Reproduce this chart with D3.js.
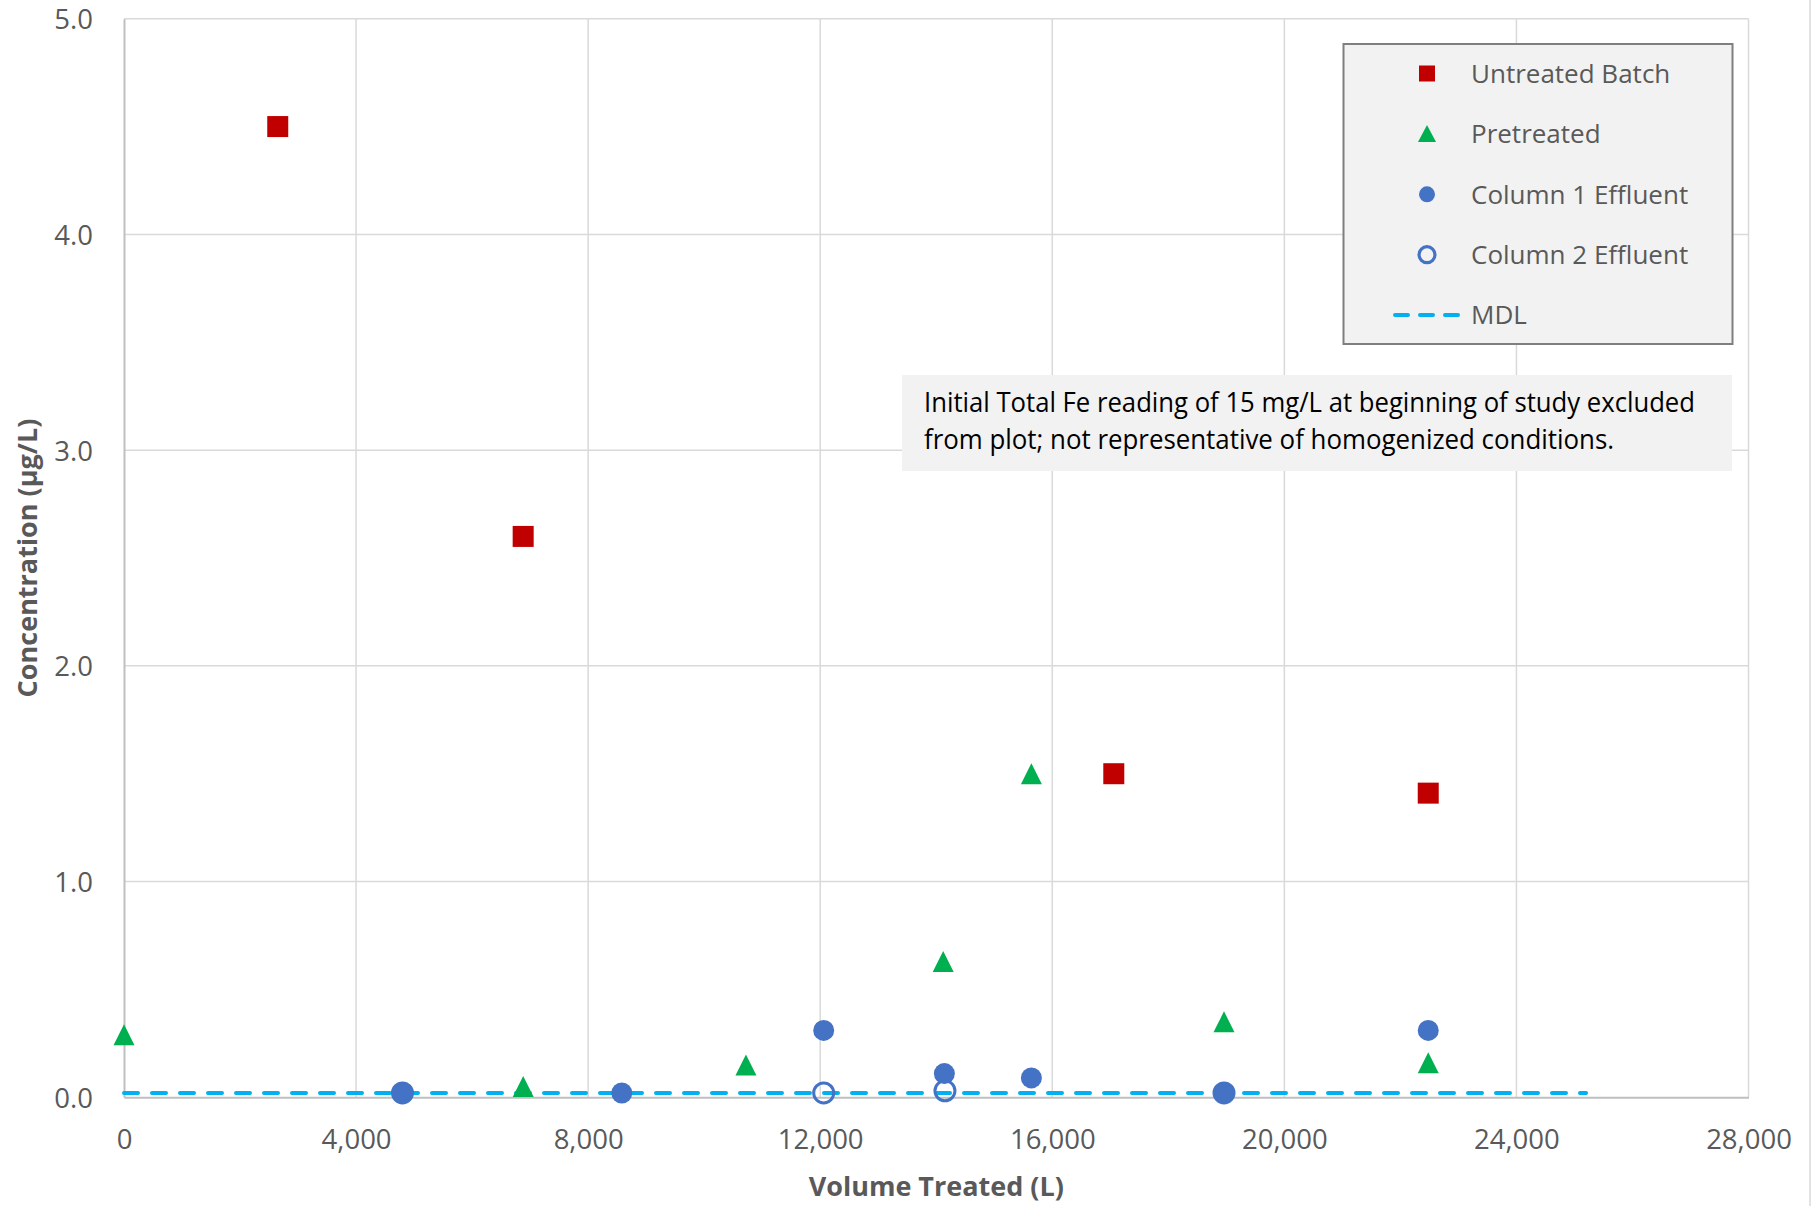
<!DOCTYPE html>
<html>
<head>
<meta charset="utf-8">
<script src="https://cdn.jsdelivr.net/npm/d3@7"></script>
<style>
  html, body { margin: 0; padding: 0; background: #fff; }
  svg { display: block; }
</style>
</head>
<body>
<svg id="chart" width="1819" height="1206"></svg>
<script>
// Total Fe concentration vs. volume treated
const untreatedX = [2650, 6880, 17060, 22480];
const untreatedY = [4.50, 2.60, 1.50, 1.41];

const pretreatedX = [0, 6880, 10720, 14120, 15640, 18960, 22480];
const pretreatedY = [0.29, 0.05, 0.15, 0.63, 1.50, 0.35, 0.16];

const column1X = [4800, 8580, 12060, 14140, 15640, 18960, 22480];
const column1Y = [0.02, 0.02, 0.31, 0.11, 0.09, 0.02, 0.31];

const column2X = [4800, 12060, 14150, 18960];
const column2Y = [0.02, 0.02, 0.03, 0.02];

const mdlX = [0, 25200];
const mdlY = [0.02, 0.02];

const xTicks = [0, 4000, 8000, 12000, 16000, 20000, 24000, 28000];
const yTicks = [0, 1, 2, 3, 4, 5];

const legendLabels = ["Untreated Batch", "Pretreated", "Column 1 Effluent", "Column 2 Effluent", "MDL"];
const noteLines = [
  "Initial Total Fe reading of 15 mg/L at beginning of study excluded",
  "from plot; not representative of homogenized conditions."
];

const RED = "#c00000", GREEN = "#00b050", BLUE = "#4472c4", CYAN = "#00b0f0";
const TEXT = "#595959";
const FONT = "'Open Sans', 'Noto Sans', sans-serif";

const svg = d3.select("#chart");
const plot = { left: 124, right: 1748.5, top: 18.7, bottom: 1097.3 };

const x = d3.scaleLinear().domain([0, 28000]).range([plot.left, plot.right]);
const y = d3.scaleLinear().domain([0, 5]).range([plot.bottom, plot.top]);

// outer chart border (right edge)
svg.append("line").attr("x1", 1810).attr("x2", 1810).attr("y1", 0).attr("y2", 1206)
  .attr("stroke", "#d9d9d9").attr("stroke-width", 1.5);

// gridlines
const grid = svg.append("g");
grid.selectAll("line.v").data(xTicks.slice(1)).join("line")
  .attr("x1", d => x(d)).attr("x2", d => x(d))
  .attr("y1", plot.top).attr("y2", plot.bottom)
  .attr("stroke", "#d9d9d9").attr("stroke-width", 1.5);
grid.selectAll("line.h").data(yTicks.slice(1)).join("line")
  .attr("x1", plot.left).attr("x2", plot.right)
  .attr("y1", d => y(d)).attr("y2", d => y(d))
  .attr("stroke", "#d9d9d9").attr("stroke-width", 1.5);

// axes
const xAxis = svg.append("g").attr("transform", `translate(0,${plot.bottom})`)
  .call(d3.axisBottom(x).tickValues(xTicks).tickSize(0).tickPadding(32).tickFormat(d3.format(",")));
const yAxis = svg.append("g").attr("transform", `translate(${plot.left},0)`)
  .call(d3.axisLeft(y).tickValues(yTicks).tickSize(0).tickPadding(31).tickFormat(d3.format(".1f")));
[xAxis, yAxis].forEach(a => {
  a.select(".domain").attr("stroke", "#bfbfbf").attr("stroke-width", 2);
  a.selectAll("text").attr("fill", TEXT).attr("font-family", FONT).attr("font-size", 27.5);
});
xAxis.selectAll("text").attr("dy", "0.71em");
yAxis.selectAll("text").attr("dy", "0.36em");

// axis titles
svg.append("text").attr("x", x(14000)).attr("y", 1196)
  .attr("text-anchor", "middle").attr("fill", TEXT).attr("font-family", FONT)
  .attr("font-size", 27).attr("font-weight", "bold").text("Volume Treated (L)");
svg.append("text").attr("transform", `translate(37,${y(2.5)}) rotate(-90)`)
  .attr("text-anchor", "middle").attr("fill", TEXT).attr("font-family", FONT)
  .attr("font-size", 27).attr("font-weight", "bold").text("Concentration (µg/L)");

// MDL line
const line = d3.line().x(d => x(d[0])).y(d => y(d[1]));
svg.append("path").datum(d3.zip(mdlX, mdlY)).attr("d", line)
  .attr("fill", "none").attr("stroke", CYAN).attr("stroke-width", 4)
  .attr("stroke-dasharray", "14 14").attr("stroke-linecap", "round");

// marker helpers
function drawSquares(g, xs, ys, side, color) {
  g.selectAll(null).data(d3.zip(xs, ys)).join("rect")
    .attr("x", d => x(d[0]) - side / 2).attr("y", d => y(d[1]) - side / 2)
    .attr("width", side).attr("height", side).attr("fill", color);
}
function drawTriangles(g, pts, w, h, color) {
  g.selectAll(null).data(pts).join("path")
    .attr("d", d => `M${d[0]},${d[1] - h / 2}L${d[0] + w / 2},${d[1] + h / 2}L${d[0] - w / 2},${d[1] + h / 2}Z`)
    .attr("fill", color);
}

const marks = svg.append("g");
drawSquares(marks, untreatedX, untreatedY, 21, RED);
drawTriangles(marks, d3.zip(pretreatedX, pretreatedY).map(d => [x(d[0]), y(d[1])]), 21, 21, GREEN);
marks.selectAll(null).data(d3.zip(column1X, column1Y)).join("circle")
  .attr("cx", d => x(d[0])).attr("cy", d => y(d[1])).attr("r", 10.5).attr("fill", BLUE);
marks.selectAll(null).data(d3.zip(column2X, column2Y)).join("circle")
  .attr("cx", d => x(d[0])).attr("cy", d => y(d[1])).attr("r", 10).attr("fill", "none")
  .attr("stroke", BLUE).attr("stroke-width", 3);

// legend
const lg = svg.append("g");
lg.append("rect").attr("x", 1343.5).attr("y", 44).attr("width", 389).attr("height", 300)
  .attr("fill", "#f2f2f2").attr("stroke", "#7f7f7f").attr("stroke-width", 2);
const rowY = d3.range(legendLabels.length).map(i => 73.5 + i * 60.4);
const mx = 1427;
lg.append("rect").attr("x", mx - 8).attr("y", rowY[0] - 8).attr("width", 16).attr("height", 16).attr("fill", RED);
drawTriangles(lg, [[mx, rowY[1] - 0.5]], 18, 17, GREEN);
lg.append("circle").attr("cx", mx).attr("cy", rowY[2]).attr("r", 8).attr("fill", BLUE);
lg.append("circle").attr("cx", mx).attr("cy", rowY[3]).attr("r", 8).attr("fill", "none")
  .attr("stroke", BLUE).attr("stroke-width", 3.2);
lg.append("line").attr("x1", 1395).attr("x2", 1464).attr("y1", rowY[4]).attr("y2", rowY[4])
  .attr("stroke", CYAN).attr("stroke-width", 4).attr("stroke-dasharray", "13 12")
  .attr("stroke-linecap", "round");
lg.selectAll("text").data(legendLabels).join("text")
  .attr("x", 1471).attr("y", (d, i) => rowY[i]).attr("dy", "0.36em")
  .attr("fill", TEXT).attr("font-family", FONT).attr("font-size", 26).text(d => d);

// annotation
const note = svg.append("g");
note.append("rect").attr("x", 902).attr("y", 375).attr("width", 830).attr("height", 96)
  .attr("fill", "#f2f2f2");
const noteWidths = [771, 690];
note.selectAll("text").data(noteLines).join("text")
  .attr("x", 924).attr("y", (d, i) => 412 + i * 37)
  .attr("fill", "#000").attr("font-family", "'Liberation Sans Narrow', 'Open Sans', sans-serif")
  .attr("font-size", 27)
  .attr("textLength", (d, i) => noteWidths[i]).attr("lengthAdjust", "spacingAndGlyphs")
  .text(d => d);
</script>
</body>
</html>
